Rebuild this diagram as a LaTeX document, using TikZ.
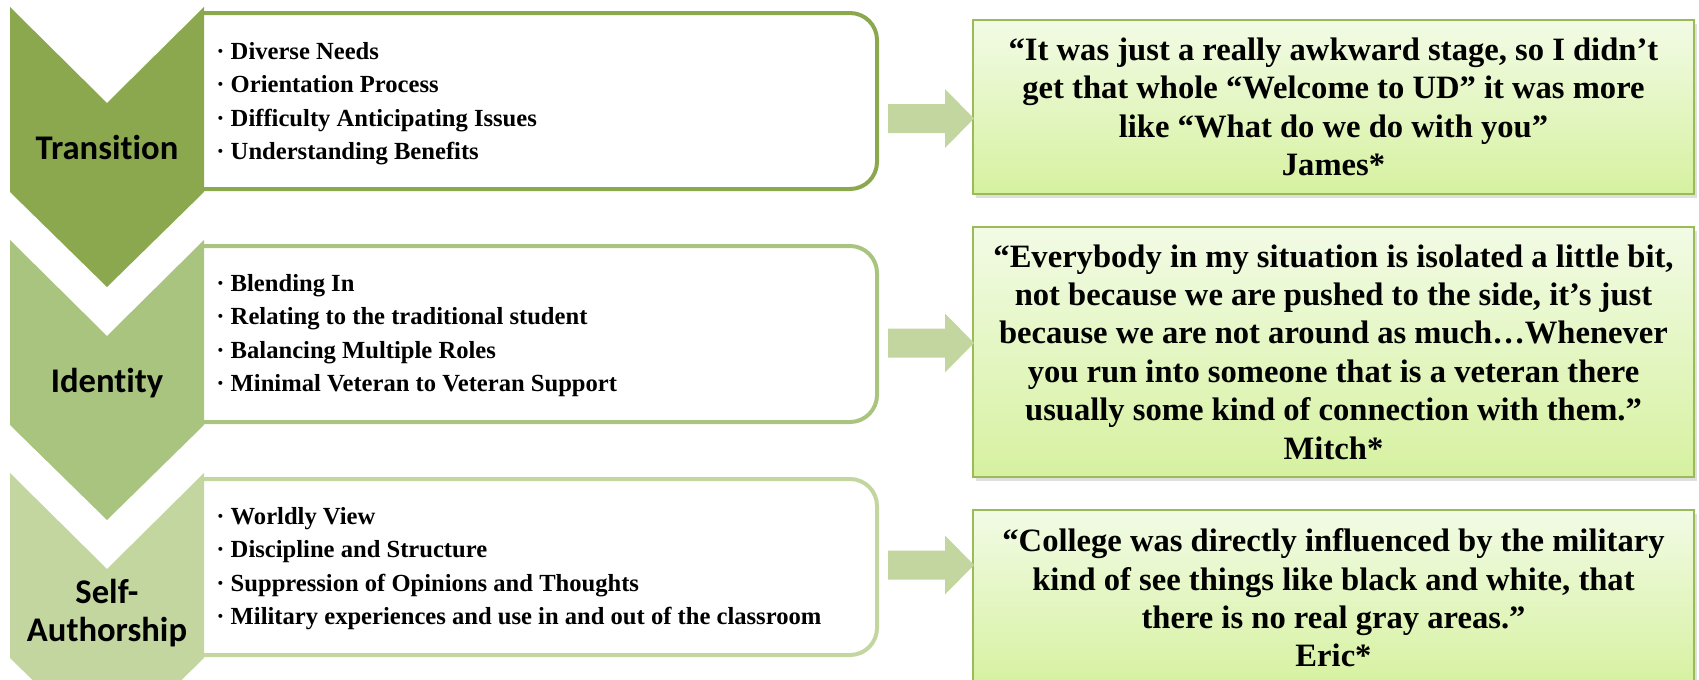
\documentclass[tikz,border=0pt]{standalone}
\usepackage{fontspec}
\setmainfont{Liberation Serif}
\newfontfamily\headfont[Ligatures=NoCommon]{Carlito}
\usepackage{xcolor}
\usetikzlibrary{shadows}

\definecolor{chevdark}{RGB}{139,168,78}
\definecolor{chevmid}{RGB}{169,196,127}
\definecolor{chevlight}{RGB}{195,214,160}
\definecolor{quoteline}{RGB}{155,187,89}
\definecolor{quotetop}{RGB}{242,251,229}
\definecolor{quotebot}{RGB}{214,241,160}

\tikzset{
  chevlabel/.style={align=center, inner sep=0pt, font=\headfont\bfseries\fontsize{17.3}{19}\selectfont},
  itemlist/.style={anchor=west, align=left, inner sep=0pt, font=\bfseries\fontsize{12.3}{16.75}\selectfont},
  boxline/.style={line width=2pt, rounded corners=13.5pt},
  quotebox/.style={anchor=north west, draw=quoteline, line width=1pt,
    top color=quotetop, bottom color=quotebot, minimum width=360.5pt,
    align=center, inner sep=0pt, font=\bfseries\fontsize{16.3}{19.2}\selectfont,
    drop shadow={opacity=0.25, shadow xshift=1.5pt, shadow yshift=-2pt}},
}

\begin{document}
\begin{tikzpicture}[x=0.5pt,y=-0.5pt]
            \useasboundingbox (0,0) rectangle (1699,680);
            \clip (0,0) rectangle (1699,680);

            % boxes with the themes
            \draw[boxline, draw=chevdark] (204,13) -- (877,13) -- (877,189) -- (204,189);
            \draw[boxline, draw=chevmid] (204,246) -- (877,246) -- (877,422) -- (204,422);
            \draw[boxline, draw=chevlight] (204,479) -- (877,479) -- (877,655) -- (204,655);

            % chevrons
            \foreach \y/\c in {7/chevdark, 240/chevmid, 473/chevlight}
                \fill[\c] (10,\y) -- (107,\y+96) -- (204,\y) -- (204,\y+185) -- (107,\y+280) -- (10,\y+185) -- cycle;

            \node[chevlabel] (transition) at (107,147) {Transition};
            \node[chevlabel] (identity) at (107,383) {Identity};
            \node[chevlabel] (selfauth) at (107,613) {Self-\\Authorship};

            \node[itemlist] (translist) at (216,103.5) {· Diverse Needs\\· Orientation Process\\· Difficulty Anticipating Issues\\· Understanding Benefits};
            \node[itemlist] (identlist) at (216,335.5) {· Blending In\\· Relating to the traditional student\\· Balancing Multiple Roles\\· Minimal Veteran to Veteran Support};
            \node[itemlist] (selflist) at (216,568.5) {· Worldly View\\· Discipline and Structure\\· Suppression of Opinions and Thoughts\\· Military experiences and use in and out of the classroom};

            % quotes
            \node[quotebox, minimum height=87pt] (james) at (972,19) {“It was just a really awkward stage, so I didn’t\\get that whole “Welcome to UD” it was more\\like “What do we do with you”\\James*};
            \node[quotebox, minimum height=125pt] (mitch) at (972,226) {“Everybody in my situation is isolated a little bit,\\not because we are pushed to the side, it’s just\\because we are not around as much…Whenever\\you run into someone that is a veteran there\\usually some kind of connection with them.”\\Mitch*};
            \node[quotebox, minimum height=88pt] (eric) at (972,509) {“College was directly influenced by the military\\kind of see things like black and white, that\\there is no real gray areas.”\\Eric*};

            % block arrows
            \foreach \y in {118.5, 343, 565}
                \fill[chevlight] (974,\y) -- ++(-29,-29.5) -- ++(0,15) -- ++(-57,0) -- ++(0,29) -- ++(57,0) -- ++(0,15) -- cycle;
        \end{tikzpicture}
\end{document}
